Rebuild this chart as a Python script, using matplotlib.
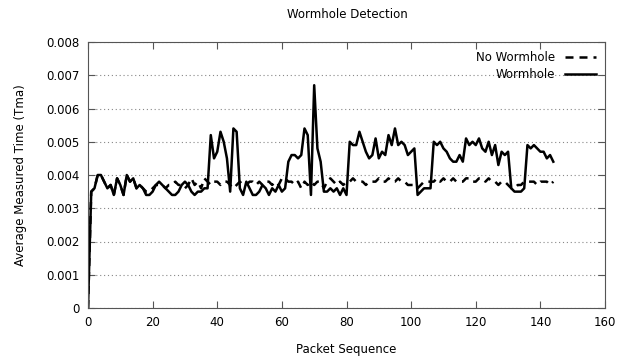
import matplotlib
matplotlib.use("Agg")
import matplotlib.pyplot as plt

packet_seq = list(range(145))

wormhole = [
    0.0000, 0.0035, 0.0036, 0.0040, 0.0040, 0.0038, 0.0036, 0.0037, 0.0034, 0.0039,
    0.0037, 0.0034, 0.0040, 0.0038, 0.0039, 0.0036, 0.0037, 0.0036, 0.0034, 0.0034,
    0.0035, 0.0037, 0.0038, 0.0037, 0.0036, 0.0035, 0.0034, 0.0034, 0.0035, 0.0037,
    0.0038, 0.0037, 0.0035, 0.0034, 0.0035, 0.0035, 0.0036, 0.0036, 0.0052, 0.0045,
    0.0047, 0.0053, 0.0050, 0.0045, 0.0035, 0.0054, 0.0053, 0.0036, 0.0034, 0.0038,
    0.0036, 0.0034, 0.0034, 0.0035, 0.0037, 0.0036, 0.0034, 0.0036, 0.0035, 0.0037,
    0.0035, 0.0036, 0.0044, 0.0046, 0.0046, 0.0045, 0.0046, 0.0054, 0.0052, 0.0034,
    0.0067, 0.0048, 0.0044, 0.0035, 0.0035, 0.0036, 0.0035, 0.0036, 0.0034, 0.0036,
    0.0034, 0.0050, 0.0049, 0.0049, 0.0053, 0.0050, 0.0047, 0.0045, 0.0046, 0.0051,
    0.0045, 0.0047, 0.0046, 0.0052, 0.0049, 0.0054, 0.0049, 0.0050, 0.0049, 0.0046,
    0.0047, 0.0048, 0.0034, 0.0035, 0.0036, 0.0036, 0.0036, 0.0050, 0.0049, 0.0050,
    0.0048, 0.0047, 0.0045, 0.0044, 0.0044, 0.0046, 0.0044, 0.0051, 0.0049, 0.0050,
    0.0049, 0.0051, 0.0048, 0.0047, 0.0050, 0.0046, 0.0049, 0.0043, 0.0047, 0.0046,
    0.0047, 0.0036, 0.0035, 0.0035, 0.0035, 0.0036, 0.0049, 0.0048, 0.0049, 0.0048,
    0.0047, 0.0047, 0.0045, 0.0046, 0.0044,
]

no_wormhole = [
    0.0000, 0.0035, 0.0036, 0.0040, 0.0040, 0.0038, 0.0036, 0.0037, 0.0034, 0.0039,
    0.0037, 0.0034, 0.0040, 0.0038, 0.0039, 0.0036, 0.0037, 0.0036, 0.0035, 0.0035,
    0.0036, 0.0037, 0.0037, 0.0037, 0.0036, 0.0037, 0.0037, 0.0038, 0.0037, 0.0037,
    0.0036, 0.0037, 0.0039, 0.0037, 0.0038, 0.0036, 0.0039, 0.0038, 0.0037, 0.0038,
    0.0038, 0.0037, 0.0038, 0.0038, 0.0037, 0.0036, 0.0037, 0.0038, 0.0037, 0.0037,
    0.0038, 0.0038, 0.0037, 0.0038, 0.0037, 0.0038, 0.0038, 0.0037, 0.0038, 0.0037,
    0.0039, 0.0039, 0.0038, 0.0038, 0.0037, 0.0038, 0.0036, 0.0038, 0.0037, 0.0038,
    0.0037, 0.0038, 0.0038, 0.0036, 0.0038, 0.0039, 0.0038, 0.0037, 0.0038, 0.0037,
    0.0038, 0.0038, 0.0039, 0.0038, 0.0038, 0.0038, 0.0037, 0.0038, 0.0038, 0.0038,
    0.0039, 0.0038, 0.0038, 0.0039, 0.0038, 0.0038, 0.0039, 0.0038, 0.0038, 0.0037,
    0.0037, 0.0037, 0.0036, 0.0037, 0.0038, 0.0038, 0.0038, 0.0038, 0.0039, 0.0038,
    0.0039, 0.0038, 0.0038, 0.0039, 0.0038, 0.0038, 0.0038, 0.0039, 0.0039, 0.0038,
    0.0038, 0.0039, 0.0039, 0.0038, 0.0039, 0.0038, 0.0038, 0.0037, 0.0038, 0.0038,
    0.0037, 0.0036, 0.0036, 0.0037, 0.0037, 0.0038, 0.0038, 0.0038, 0.0038, 0.0037,
    0.0038, 0.0038, 0.0038, 0.0037, 0.0038,
]

x_ticks = [0, 20, 40, 60, 80, 100, 120, 140, 160]
y_ticks = [0, 0.001, 0.002, 0.003, 0.004, 0.005, 0.006, 0.007, 0.008]
y_tick_labels = ["0", "0.001", "0.002", "0.003", "0.004", "0.005", "0.006", "0.007", "0.008"]

plt.rcParams["font.family"] = ["DejaVu Sans"]
plt.rcParams["font.size"] = 8

fig = plt.figure(figsize=(6.35, 3.6), dpi=100)
ax = fig.add_axes([88 / 635, 52 / 360, 517 / 635, 266 / 360])

ax.plot(packet_seq, no_wormhole, color="black", lw=1.8, dashes=(3.2, 2.4), label="No Wormhole")
ax.plot(packet_seq, wormhole, color="black", lw=1.8, label="Wormhole")

ax.set_xlim(0, 160)
ax.set_ylim(0, 0.008)
ax.set_xticks(x_ticks)
ax.set_yticks(y_ticks)
ax.set_yticklabels(y_tick_labels)
ax.tick_params(direction="in", top=True, right=True, length=5, width=0.8,
               color="#555555", labelsize=8.5, pad=6)
for side in ax.spines.values():
    side.set_color("#555555")
    side.set_linewidth(0.8)

ax.yaxis.grid(True, linestyle=(0, (1, 2.5)), color="#888888", lw=0.8)
ax.set_axisbelow(True)

ax.set_xlabel("Packet Sequence", fontsize=8.5, labelpad=10)
ax.set_ylabel("Average Measured Time (Tma)", fontsize=8.5, labelpad=14)
fig.text(347 / 635, 1 - 15 / 360, "Wormhole Detection", ha="center", va="center", fontsize=8.5)

leg = ax.legend(loc="upper right", frameon=False, markerfirst=False, fontsize=8.5,
                handlelength=2.6, borderaxespad=0.4, labelspacing=0.3)

fig.savefig("out.png", dpi=100)
